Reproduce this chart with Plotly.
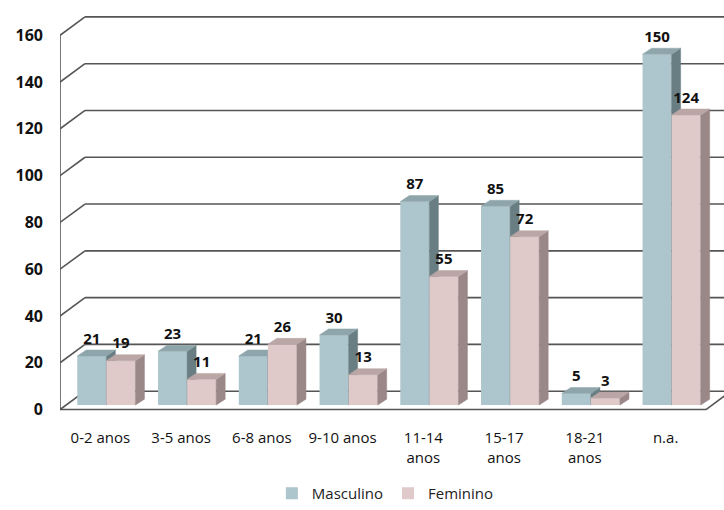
import plotly.graph_objects as go

# ---------------- data ----------------
categories = ["0-2 anos", "3-5 anos", "6-8 anos", "9-10 anos",
              "11-14<br>anos", "15-17<br>anos", "18-21<br>anos", "n.a."]
masculino = [21, 23, 21, 30, 87, 85, 5, 150]
feminino = [19, 11, 26, 13, 55, 72, 3, 124]
y_ticks = [0, 20, 40, 60, 80, 100, 120, 140, 160]
series_names = ["Masculino", "Feminino"]

# ---------------- geometry (pixel -> data unit helpers) ----------------
PX_X = 80.75          # px per category unit
PX_Y = 2.356          # px per value unit
X_RANGE = [-0.5, 7.723]
Y_RANGE = [-3.18, 170.8]
SX, SY = 6 / PX_X, 4.5 / PX_Y          # bar plane shift
BW = 0.36                               # bar width (category units)
DX, DY = 9 / PX_X, 6 / PX_Y             # bar depth
WX, WY = 25 / PX_X, 18.5 / PX_Y         # wall depth
LBL = 2.5 / PX_Y                        # extra label gap

col_front = {"Masculino": "#adc5cc", "Feminino": "#dfc9c9"}
col_top = {"Masculino": "#8ea6ab", "Feminino": "#bba6a6"}
col_side = {"Masculino": "#687e83", "Feminino": "#9a8787"}

fig = go.Figure()

# dummy trace to keep main axes alive
fig.add_trace(go.Scatter(x=[X_RANGE[0]], y=[Y_RANGE[0]], mode="markers",
                         marker=dict(opacity=0), showlegend=False, hoverinfo="skip",
                         xaxis="x", yaxis="y"))

n = len(categories)
for k, (name, vals) in enumerate(zip(series_names, [masculino, feminino])):
    xa, ya = ("x2", "y2") if k == 0 else ("x3", "y3")
    off = -BW if k == 0 else 0.0
    xs = list(range(n))
    fig.add_trace(go.Bar(x=xs, y=vals, width=[BW] * n, offset=[off] * n,
                         name=name, marker=dict(color=col_front[name], line=dict(width=0)),
                         xaxis=xa, yaxis=ya, showlegend=True))
    sx_, sy_, tx_, ty_ = [], [], [], []
    for i, v in enumerate(vals):
        xl = i + off
        xr = xl + BW
        sx_ += [xr, xr + DX, xr + DX, xr, xr, None]
        sy_ += [0, DY, v + DY, v, 0, None]
        tx_ += [xl, xl + DX, xr + DX, xr, xl, None]
        ty_ += [v, v + DY, v + DY, v, v, None]
    fig.add_trace(go.Scatter(x=sx_, y=sy_, mode="lines", fill="toself",
                             fillcolor=col_side[name], line=dict(width=0.5, color=col_side[name]),
                             xaxis=xa, yaxis=ya, showlegend=False, hoverinfo="skip"))
    fig.add_trace(go.Scatter(x=tx_, y=ty_, mode="lines", fill="toself",
                             fillcolor=col_top[name], line=dict(width=0.5, color=col_top[name]),
                             xaxis=xa, yaxis=ya, showlegend=False, hoverinfo="skip"))

# data labels (top layer)
for k, vals in enumerate([masculino, feminino]):
    off = -BW if k == 0 else 0.0
    fig.add_trace(go.Scatter(x=[i + off + BW / 2 for i in range(n)],
                             y=[v + DY + LBL for v in vals], mode="text",
                             text=[str(v) for v in vals], textposition="top center",
                             textfont=dict(family="Open Sans", size=15, color="#111",
                                           weight="bold"),
                             xaxis="x3", yaxis="y3", showlegend=False, hoverinfo="skip"))

# ---------------- walls / gridlines ----------------
shapes = []
gl = dict(color="#555555", width=1.6)
xmax = X_RANGE[1] + 1
for t in y_ticks:
    shapes.append(dict(type="line", xref="x", yref="y", x0=-0.5, y0=t,
                       x1=-0.5 + WX, y1=t + WY, line=gl, layer="below"))
    shapes.append(dict(type="line", xref="x", yref="y", x0=-0.5 + WX, y0=t + WY,
                       x1=xmax, y1=t + WY, line=gl, layer="below"))
# left wall front edge
shapes.append(dict(type="line", xref="x", yref="y", x0=-0.5, y0=0, x1=-0.5, y1=y_ticks[-1],
                   line=gl, layer="below"))
# floor front edge and right diagonal
xe = n - 0.5
shapes.append(dict(type="line", xref="x", yref="y", x0=-0.5, y0=0, x1=xe, y1=0,
                   line=gl, layer="below"))
shapes.append(dict(type="line", xref="x", yref="y", x0=xe, y0=0, x1=xe + WX, y1=WY,
                   line=gl, layer="below"))

fig.update_layout(
    width=724, height=510,
    margin=dict(l=60, r=0, t=10, b=90),
    paper_bgcolor="white", plot_bgcolor="rgba(0,0,0,0)",
    barmode="overlay",
    shapes=shapes,
    showlegend=True,
    legend=dict(orientation="h", x=0.49, xanchor="center", y=-0.188, yanchor="middle",
                font=dict(family="Open Sans", size=15, color="#222"),
                itemwidth=30, traceorder="normal"),
    xaxis=dict(range=X_RANGE, tickvals=list(range(n)), ticktext=categories,
               showgrid=False, zeroline=False, showline=False, ticks="",
               ticklabelstandoff=10,
               tickfont=dict(family="Open Sans", size=15, color="#111")),
    yaxis=dict(range=Y_RANGE, tickvals=y_ticks, showgrid=False, zeroline=False,
               showline=False, ticks="", ticklabelstandoff=16,
               tickfont=dict(family="Open Sans", size=16, color="#111", weight="bold")),
    xaxis2=dict(range=[X_RANGE[0] - SX, X_RANGE[1] - SX], overlaying="x", visible=False),
    yaxis2=dict(range=[Y_RANGE[0] - SY, Y_RANGE[1] - SY], overlaying="y", visible=False),
    xaxis3=dict(range=[X_RANGE[0] - SX, X_RANGE[1] - SX], overlaying="x", visible=False),
    yaxis3=dict(range=[Y_RANGE[0] - SY, Y_RANGE[1] - SY], overlaying="y", visible=False),
)

fig.write_html("out.html")
